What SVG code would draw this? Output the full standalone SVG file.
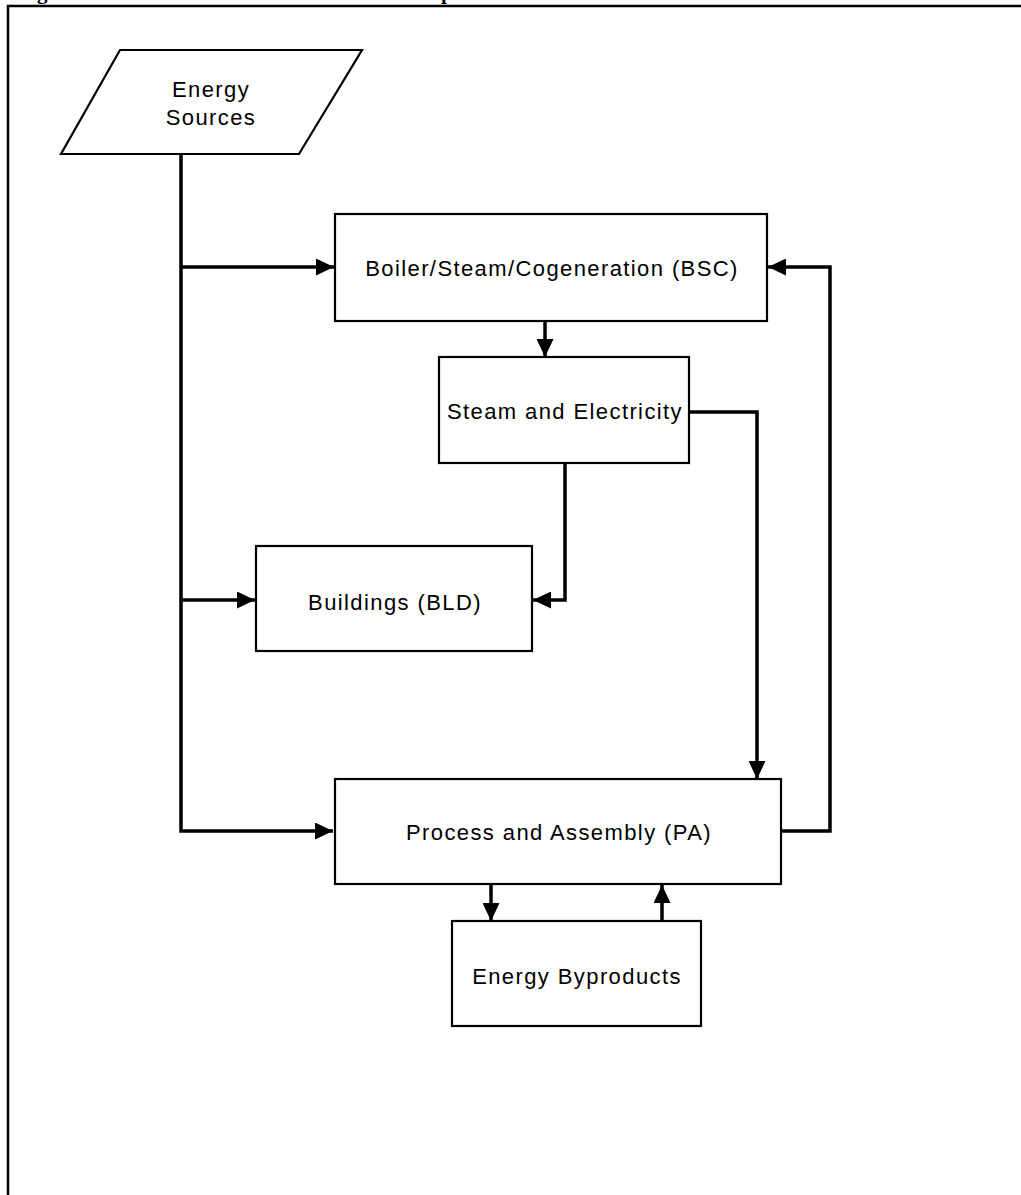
<svg xmlns="http://www.w3.org/2000/svg" width="1021" height="1195" viewBox="0 0 1021 1195">
<style>
.box{fill:#fff;stroke:#000;stroke-width:2.2}
.lbl{font-family:"Liberation Sans",Arial,sans-serif;font-size:22px;letter-spacing:1.4px;fill:#000;text-anchor:middle}
.con{fill:none;stroke:#000;stroke-width:3.5;stroke-linejoin:miter;stroke-linecap:butt}
.ttl{font-family:"Liberation Serif","Times New Roman",serif;font-size:21px;font-weight:bold;fill:#000}
</style>
<defs>
<marker id="ah" markerUnits="userSpaceOnUse" markerWidth="19" markerHeight="17" refX="18" refY="8.5" orient="auto">
<path d="M0,0 L18,8.5 L0,17 z" fill="#000"/>
</marker>
</defs>
<rect width="1021" height="1195" fill="#fff"/>
<text class="ttl" x="37" y="-1">g</text>
<text class="ttl" x="441" y="-1">p</text>
<path d="M8,1195 V6 H1021" fill="none" stroke="#000" stroke-width="2.5"/>
<g id="connectors">
<path class="con" d="M181,154 V831 H333" marker-end="url(#ah)"/>
<path class="con" d="M181,267 H334" marker-end="url(#ah)"/>
<path class="con" d="M181,600 H255" marker-end="url(#ah)"/>
<path class="con" d="M545,322 V357" marker-end="url(#ah)"/>
<path class="con" d="M689,412 H757 V779" marker-end="url(#ah)"/>
<path class="con" d="M565,463 V600 H533" marker-end="url(#ah)"/>
<path class="con" d="M781,831 H830 V267 H768" marker-end="url(#ah)"/>
<path class="con" d="M491,885 V921" marker-end="url(#ah)"/>
<path class="con" d="M662,921 V885" marker-end="url(#ah)"/>
</g>
<g id="energy-sources">
<polygon class="box" points="120,50 362,50 299,154 61,154"/>
<text class="lbl" x="211" y="97">Energy</text>
<text class="lbl" x="211" y="125">Sources</text>
</g>
<g id="bsc">
<rect class="box" x="335" y="214" width="432" height="107"/>
<text class="lbl" x="552" y="276">Boiler/Steam/Cogeneration (BSC)</text>
</g>
<g id="steam-electricity">
<rect class="box" x="439" y="357" width="250" height="106"/>
<text class="lbl" x="565" y="419">Steam and Electricity</text>
</g>
<g id="buildings">
<rect class="box" x="256" y="546" width="276" height="105"/>
<text class="lbl" x="395" y="610">Buildings (BLD)</text>
</g>
<g id="process-assembly">
<rect class="box" x="335" y="779" width="446" height="105"/>
<text class="lbl" x="559" y="840">Process and Assembly (PA)</text>
</g>
<g id="energy-byproducts">
<rect class="box" x="452" y="921" width="249" height="105"/>
<text class="lbl" x="577" y="984">Energy Byproducts</text>
</g>
</svg>
